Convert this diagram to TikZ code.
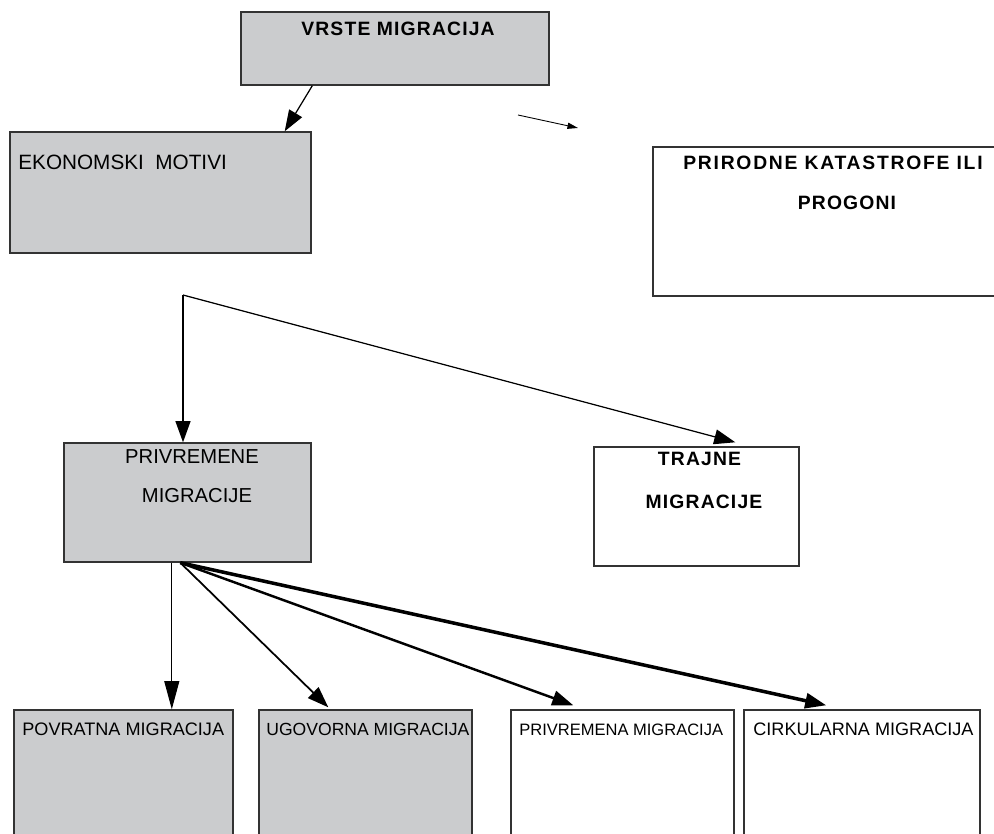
\documentclass[tikz,border=0pt]{standalone}
\usepackage{fontspec}
\setmainfont{Liberation Sans}
\usetikzlibrary{arrows.meta,calc}
\definecolor{boxgrey}{HTML}{CBCCCE}

\begin{document}
\begin{tikzpicture}[x=0.02cm, y=-0.02cm,
                    box/.style={rectangle, draw=black!80, line width=0.8pt, inner sep=0pt},
                    greybox/.style={box, fill=boxgrey}, plainbox/.style={box, fill=white},
                    boxsize/.style 2 args={minimum width=#1*0.02cm, minimum height=#2*0.02cm},
                    head/.style={inner sep=0pt, font=\bfseries\fontsize{11}{13}\selectfont\addfontfeatures{LetterSpace=6}},
                    txt/.style={inner sep=0pt, font=\fontsize{11.5}{13}\selectfont},
                    small/.style={inner sep=0pt, font=\fontsize{10.3}{12}\selectfont},
                    arrow/.style={-{Triangle[length=12pt, width=8.5pt]}, line width=0.7pt}]

\useasboundingbox (0,0) rectangle (994,834);

% Top
\node[greybox, boxsize={308}{73}] (vrste) at (395,48.5) {};
\node[head, anchor=base] (vrste-t) at (398,36) {VRSTE MIGRACIJA};

\node[greybox, boxsize={301}{121}] (ekon) at (160.5,192.5) {};
\node[txt, anchor=base west, font=\fontsize{11.8}{13}\selectfont] (ekon-t) at (18,170) {EKONOMSKI~~MOTIVI};

\node[plainbox, boxsize={374}{149}] (prir) at (840,221.5) {};
\node[head, anchor=base, font={\bfseries\fontsize{11}{13}\selectfont\addfontfeatures{LetterSpace=9}}] (prir-t1) at (833,170) {PRIRODNE KATASTROFE ILI};
\node[head, anchor=base] (prir-t2) at (847,210) {PROGONI};

\draw[arrow] ($(vrste.south west)+(72,0)$) -- ($(ekon.north east)+(-27,0)$);
\coordinate (s1) at (518,115);
\coordinate (s2) at (578,128);
\draw[-{Triangle[length=6pt, width=3.5pt]}, line width=0.5pt] (s1) -- (s2);

% Middle row
\node[greybox, boxsize={247}{119}] (privr) at (187.5,502.5) {};
\node[txt, anchor=base] (privr-t1) at (192,463) {PRIVREMENE};
\node[txt, anchor=base] (privr-t2) at (197,502) {MIGRACIJE};

\node[plainbox, boxsize={205}{119}] (trajne) at (696.5,506.5) {};
\node[head, anchor=base] (trajne-t1) at (699.5,465) {TRAJNE};
\node[head, anchor=base] (trajne-t2) at (704,508) {MIGRACIJE};

\coordinate (fork) at (183,295);
\draw[arrow] (fork) -- (fork |- privr.north);
\draw[arrow] (fork) -- ($(trajne.north west)+(142,-4)$);

% Bottom row
\node[greybox, boxsize={219}{150}] (povr) at (123.5,785) {};
\node[greybox, boxsize={213}{150}] (ugov) at (365.5,785) {};
\node[plainbox, boxsize={223}{150}] (privm) at (622.5,785) {};
\node[plainbox, boxsize={236}{150}] (cirk) at (862,785) {};
\node[small, anchor=base west] (povr-t) at (22,735) {POVRATNA MIGRACIJA};
\node[small, anchor=base west, font=\fontsize{10}{12}\selectfont] (ugov-t) at (266,735) {UGOVORNA MIGRACIJA};
\node[small, anchor=base west, font=\fontsize{9.4}{11}\selectfont] (privm-t) at (519,735) {PRIVREMENA MIGRACIJA};
\node[small, anchor=base west] (cirk-t) at (753,735) {CIRKULARNA MIGRACIJA};

\draw[arrow, line width=0.6pt, -{Triangle[length=16pt, width=8.5pt]}] ($(privr.south west)+(108.5,0)$) -- ($(povr.north west)+(158.5,0)$);
\draw[arrow, line width=1pt] ($(privr.south west)+(117,0)$) -- ($(ugov.north west)+(70,-2)$);
\draw[arrow, line width=1.4pt] ($(privr.south west)+(117,0)$) -- ($(privm.north west)+(63,-4)$);
\draw[arrow, line width=2pt] ($(privr.south west)+(117,0)$) -- ($(cirk.north west)+(83,-4)$);

\end{tikzpicture}
\end{document}
